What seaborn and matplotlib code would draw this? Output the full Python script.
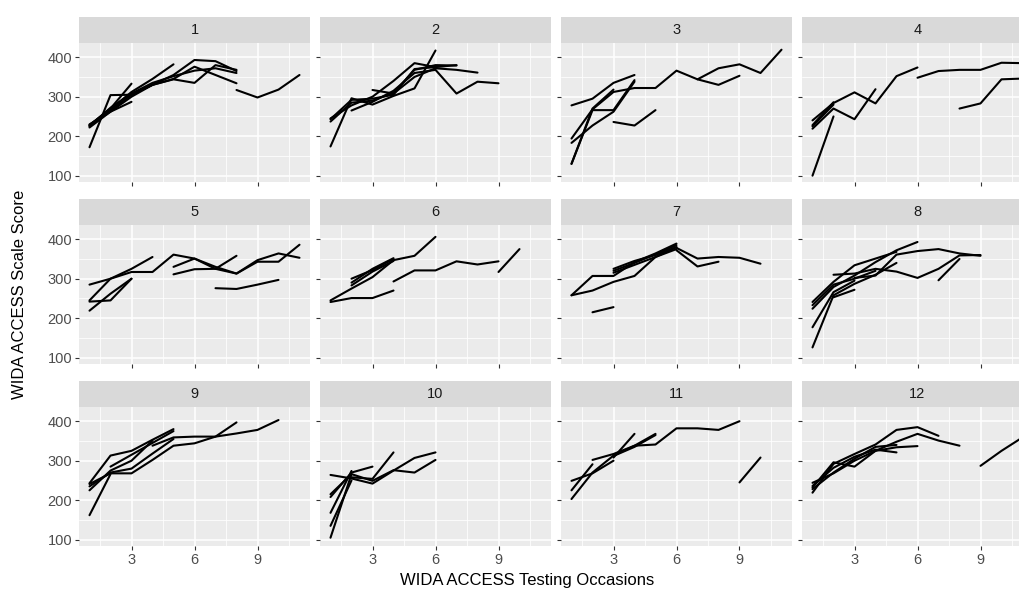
import numpy as np
import pandas as pd
import matplotlib
matplotlib.use("Agg")
import matplotlib.pyplot as plt
import seaborn as sns
from matplotlib.patches import Rectangle
from matplotlib.ticker import FixedLocator

# Each trajectory: (first testing occasion, scale scores on consecutive occasions)
panel_1 = [(1, [172, 304, 305, 330, 355, 393, 390, 365]),
           (1, [228, 268, 312, 345, 382]),
           (1, [222, 262, 287]),
           (1, [228, 270, 333]),
           (1, [230, 262, 300, 330, 345, 376, 355, 334]),
           (1, [225, 265, 305, 330, 344, 335, 380, 368]),
           (8, [317, 298, 318, 355]),
           (1, [226, 272, 308, 335, 352, 366, 372, 360])]
panel_2 = [(1, [174, 296, 280, 302, 321, 417]),
           (1, [237, 285, 290, 310, 368, 380, 379]),
           (1, [243, 292, 295, 305, 370, 375]),
           (2, [265, 287, 315, 360, 368, 308, 338, 334]),
           (3, [317, 308, 350, 372, 368, 361]),
           (1, [245, 278, 300, 340, 385, 375, 380])]
panel_3 = [(1, [278, 295, 335, 355]),
           (1, [194, 268, 312, 322, 322, 366, 344, 372, 382, 360, 419]),
           (7, [344, 330, 353]),
           (3, [236, 227, 266]),
           (1, [130, 266, 266, 342]),
           (1, [183, 227, 262, 338]),
           (1, [130, 270, 318])]
panel_4 = [(1, [100, 250]),
           (1, [240, 284, 311, 283, 352, 374]),
           (1, [219, 270, 243, 319]),
           (1, [228, 286]),
           (1, [225, 280]),
           (6, [348, 365, 368, 368, 386, 385]),
           (8, [270, 283, 344, 346])]
panel_5 = [(1, [285, 300, 317, 317, 361, 351, 330, 313, 343, 343, 386]),
           (1, [242, 245, 300]),
           (1, [219, 262, 300]),
           (1, [245, 300, 325, 355]),
           (5, [330, 351, 325, 358]),
           (5, [311, 324, 325, 313, 347, 364, 353]),
           (7, [276, 274, 285, 297])]
panel_6 = [(1, [241, 251, 251, 270]),
           (1, [245, 275, 304, 347, 358, 406]),
           (4, [293, 321, 321, 344, 336, 344]),
           (9, [317, 375]),
           (2, [300, 322, 350]),
           (2, [290, 325, 352]),
           (2, [283, 318, 345])]
panel_7 = [(1, [258, 307, 307, 342, 364, 389]),
           (1, [258, 270, 292, 307, 355, 380]),
           (2, [215, 228]),
           (6, [378, 351, 355, 353, 338]),
           (6, [372, 331, 343]),
           (3, [320, 340, 362, 385]),
           (3, [315, 335, 355, 375]),
           (3, [325, 345, 360, 380])]
panel_8 = [(1, [126, 258, 287, 310, 340]),
           (1, [177, 266, 295]),
           (1, [224, 279, 308, 342, 372, 393]),
           (1, [241, 292, 334, 351, 368]),
           (2, [310, 313, 325, 318, 302, 325, 359, 360]),
           (3, [302, 308, 361, 370, 375, 364, 358]),
           (7, [296, 350]),
           (2, [253, 272]),
           (1, [233, 285, 300, 320])]
panel_9 = [(1, [162, 266]),
           (1, [243, 313, 325, 353, 380]),
           (1, [241, 268, 268, 302, 338, 344, 361, 397]),
           (4, [338, 359, 361, 361, 369, 378, 403]),
           (1, [225, 275, 300, 351]),
           (2, [285, 315, 345, 375]),
           (1, [235, 270, 280, 318, 355])]
panel_10 = [(1, [264, 255, 242, 275, 307, 321]),
            (1, [215, 266, 249, 276, 270, 302]),
            (1, [105, 266]),
            (1, [168, 274]),
            (1, [208, 270, 285]),
            (2, [258, 254, 321]),
            (1, [135, 250])]
panel_11 = [(1, [203, 270, 313, 338, 341, 382, 382, 378, 400]),
            (1, [249, 268, 300]),
            (1, [225, 291]),
            (2, [302, 317, 338, 368]),
            (3, [308, 368]),
            (3, [312, 335, 365]),
            (9, [245, 308])]
panel_12 = [(1, [219, 292, 317, 341, 378, 385, 363]),
            (1, [244, 268, 300, 325, 348, 368, 351, 338]),
            (1, [232, 296, 285, 325, 334, 337]),
            (1, [236, 282, 310, 328, 321]),
            (9, [287, 325, 359]),
            (1, [228, 270, 305, 335, 340])]

groups = list(range(1, 13))
panels = [panel_1, panel_2, panel_3, panel_4, panel_5, panel_6,
          panel_7, panel_8, panel_9, panel_10, panel_11, panel_12]
x_breaks = [3, 6, 9]
x_minor = [1.5, 4.5, 7.5, 10.5]
y_breaks = [100, 200, 300, 400]
y_minor = [150, 250, 350]
x_title = "WIDA ACCESS Testing Occasions"
y_title = "WIDA ACCESS Scale Score"

rows = []
for grp, trajs in zip(groups, panels):
    for k, (start, scores) in enumerate(trajs):
        for j, s in enumerate(scores):
            rows.append({"group": grp, "student": f"{grp}-{k}",
                         "occasion": start + j, "score": s})
df = pd.DataFrame(rows)

sns.set_theme(style="darkgrid")
plt.rcParams["font.family"] = ["Liberation Sans", "DejaVu Sans"]

g = sns.relplot(data=df, x="occasion", y="score", col="group", col_wrap=4,
                kind="line", units="student", estimator=None, color="black",
                linewidth=1.5, height=2, aspect=1.6,
                facet_kws=dict(sharex=True, sharey=True))
fig = g.figure
fig.set_size_inches(10.19, 5.96)
fig.set_dpi(100)
W, H = 1019, 596
lefts = [79, 320, 561, 802]
tops = [43, 225, 407]
pw, ph = 231, 139
strip_h = 26

for i, (ax, grp) in enumerate(zip(g.axes.flat, groups)):
    r, c = divmod(i, 4)
    ax.set_position([lefts[c] / W, 1 - (tops[r] + ph) / H, pw / W, ph / H])
    ax.set_facecolor("#EBEBEB")
    ax.set_xlim(0.5, 11.5)
    ax.set_ylim(84, 436)
    ax.xaxis.set_major_locator(FixedLocator(x_breaks))
    ax.xaxis.set_minor_locator(FixedLocator(x_minor))
    ax.yaxis.set_major_locator(FixedLocator(y_breaks))
    ax.yaxis.set_minor_locator(FixedLocator(y_minor))
    ax.set_axisbelow(True)
    ax.grid(which="major", color="white", linewidth=1.1)
    ax.grid(which="minor", color="white", linewidth=0.55)
    for sp in ax.spines.values():
        sp.set_visible(False)
    ax.set_title("")
    ax.set_xlabel("")
    ax.set_ylabel("")
    ax.tick_params(which="major", length=3, width=0.8, color="#333333",
                   labelcolor="#4D4D4D", labelsize=10.5, pad=2,
                   left=True, bottom=True)
    ax.tick_params(which="minor", length=0)
    ax.tick_params(axis="x", labelbottom=(r == 2))
    ax.tick_params(axis="y", labelleft=(c == 0))
    ax.add_patch(Rectangle((0, 1), 1, strip_h / ph, transform=ax.transAxes,
                           clip_on=False, facecolor="#D9D9D9", edgecolor="none"))
    ax.text(0.5, 1 + strip_h / ph / 2, str(grp), transform=ax.transAxes,
            ha="center", va="center", color="#1A1A1A", fontsize=10.5)

fig.text(527 / W, 1 - 580 / H, x_title, ha="center", va="center",
         fontsize=12, color="black")
fig.text(20 / W, 1 - 294 / H, y_title, ha="center", va="center",
         rotation=90, fontsize=12, color="black")

fig.savefig("out.png", dpi=100)
